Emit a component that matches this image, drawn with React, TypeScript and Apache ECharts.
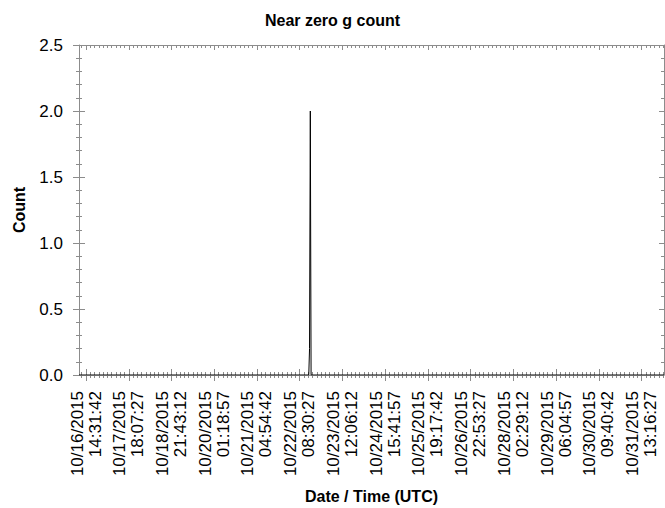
import React, { useEffect, useRef } from "react";
import * as echarts from "echarts";

// ---- data ----
const times: string[] = [
  "2015-10-16T10:00:00Z",
  "2015-10-22T14:20:00Z",
  "2015-10-22T14:50:00Z",
  "2015-10-22T15:20:00Z",
  "2015-10-22T15:50:00Z",
  "2015-11-01T03:40:00Z",
];
const counts: number[] = [0, 0, 0.2, 2, 0, 0];

const tickLabels: string[] = [
  "10/16/2015\n14:31:42",
  "10/17/2015\n18:07:27",
  "10/18/2015\n21:43:12",
  "10/20/2015\n01:18:57",
  "10/21/2015\n04:54:42",
  "10/22/2015\n08:30:27",
  "10/23/2015\n12:06:12",
  "10/24/2015\n15:41:57",
  "10/25/2015\n19:17:42",
  "10/26/2015\n22:53:27",
  "10/28/2015\n02:29:12",
  "10/29/2015\n06:04:57",
  "10/30/2015\n09:40:42",
  "10/31/2015\n13:16:27",
];
const yTicks: number[] = [0, 0.5, 1.0, 1.5, 2.0, 2.5];

const title = "Near zero g count";
const xName = "Date / Time (UTC)";
const yName = "Count";

// ---- helpers ----
function parseLabel(s: string): number {
  const parts = s.split("\n");
  const [mo, da, yr] = parts[0].split("/").map(Number);
  const [h, mi, se] = parts[1].split(":").map(Number);
  return Date.UTC(yr, mo - 1, da, h, mi, se);
}

const anchorMs = parseLabel(tickLabels[0]);
const stepSec = (parseLabel(tickLabels[1]) - anchorMs) / 1000;
const minorSec = stepSec / 10;
const xs = times.map((t) => (Date.parse(t) - anchorMs) / 1000);
const xMin = xs[0];
const xMax = xs[xs.length - 1];
const seriesData = xs.map((x, i) => [x, counts[i]]);

// tick positions (seconds relative to first label)
const majorVals = tickLabels.map((l) => (parseLabel(l) - anchorMs) / 1000);
const minorVals: number[] = [];
for (let k = Math.ceil(xMin / minorSec); k * minorSec <= xMax; k++) {
  if (k % 10 !== 0) minorVals.push(k * minorSec);
}

const FONT = "'Liberation Sans', Arial, sans-serif";
const GRAY = "#8c8c8c";

function xAxisDef(
  position: "bottom" | "top",
  values: number[],
  inside: boolean,
  len: number,
  showLine: boolean,
  extra: any = {}
) {
  return {
    type: "value",
    position,
    min: xMin,
    max: xMax,
    axisLine: { show: showLine, onZero: false, lineStyle: { color: GRAY, width: 1 } },
    axisTick: {
      show: true,
      inside,
      length: len,
      customValues: values,
      lineStyle: { color: GRAY, width: 1 },
    },
    axisLabel: { show: false },
    splitLine: { show: false },
    nameMoveOverlap: false,
    ...extra,
  };
}

function yAxisDef(
  position: "left" | "right",
  inside: boolean,
  len: number,
  minorLen: number,
  showLine: boolean,
  extra: any = {}
) {
  return {
    type: "value",
    position,
    min: yTicks[0],
    max: yTicks[yTicks.length - 1],
    interval: yTicks[1] - yTicks[0],
    axisLine: { show: showLine, onZero: false, lineStyle: { color: GRAY, width: 1 } },
    axisTick: { show: true, inside, length: len, lineStyle: { color: GRAY, width: 1 } },
    minorTick: { show: true, splitNumber: 5, length: minorLen, lineStyle: { color: GRAY, width: 1 } },
    axisLabel: { show: false },
    splitLine: { show: false },
    minorSplitLine: { show: false },
    nameMoveOverlap: false,
    ...extra,
  };
}

function xLabel(v: number): string {
  const i = majorVals.findIndex((m) => Math.abs(m - v) < 1);
  return i >= 0 ? tickLabels[i] : "";
}

export default function App() {
  const ref = useRef<HTMLDivElement>(null);

  useEffect(() => {
    document.body.style.margin = "0";
    if (!ref.current) return;
    const chart = echarts.init(ref.current, null, { renderer: "svg" });
    const option: any = {
      animation: false,
      backgroundColor: "#ffffff",
      title: {
        text: title,
        left: "center",
        top: 7,
        textStyle: { fontFamily: FONT, fontSize: 16, fontWeight: "bold", color: "#000" },
      },
      grid: { left: 79, right: 1, top: 45, bottom: 133, outerBoundsMode: "none" },
      xAxis: [
        xAxisDef("bottom", majorVals, false, 6, true, {
          z: 3,
          name: xName,
          nameLocation: "middle",
          nameGap: 113,
          nameTextStyle: { fontFamily: FONT, fontSize: 16, fontWeight: "bold", color: "#000" },
          axisLabel: {
            show: true,
            customValues: majorVals,
            rotate: 90,
            margin: 16,
            fontFamily: FONT,
            fontSize: 17,
            lineHeight: 18,
            color: "#000",
            formatter: (v: any) => xLabel(Number(v)),
          },
        }),
        xAxisDef("bottom", majorVals, true, 6, false),
        xAxisDef("bottom", minorVals, false, 3, false),
        xAxisDef("bottom", minorVals, true, 3, false),
        xAxisDef("top", majorVals, true, 5, true),
        xAxisDef("top", minorVals, true, 3, false),
      ],
      yAxis: [
        yAxisDef("left", false, 6, 3, true, {
          z: 3,
          name: yName,
          nameLocation: "middle",
          nameGap: 52,
          nameTextStyle: { fontFamily: FONT, fontSize: 16, fontWeight: "bold", color: "#000" },
          axisLabel: {
            show: true,
            margin: 16,
            fontFamily: FONT,
            fontSize: 17,
            color: "#000",
            formatter: (v: number) => v.toFixed(1),
          },
        }),
        yAxisDef("left", true, 6, 3, false),
        yAxisDef("right", true, 5, 3, true),
      ],
      series: [
        {
          type: "line",
          xAxisIndex: 0,
          yAxisIndex: 0,
          data: seriesData,
          showSymbol: false,
          symbol: "none",
          lineStyle: { color: "#000", width: 1 },
        },
      ],
    };
    chart.setOption(option);
    return () => chart.dispose();
  }, []);

  return <div ref={ref} style={{ width: 665, height: 508 }} />;
}
